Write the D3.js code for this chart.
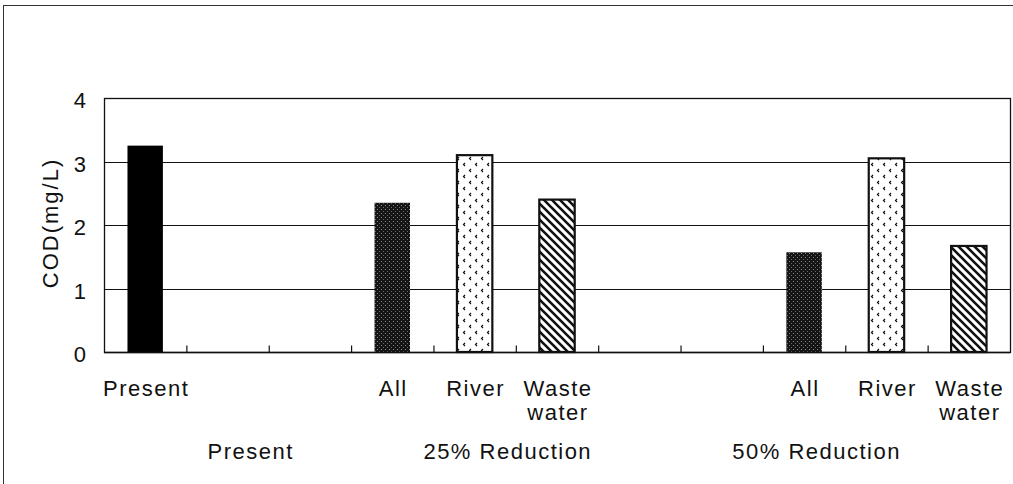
<!DOCTYPE html>
<html><head><meta charset="utf-8">
<script src="https://cdn.jsdelivr.net/npm/d3@7"></script>
<style>
html,body{margin:0;padding:0;background:#fff;}
svg{display:block;}
text{font-family:"Liberation Sans",Arial,sans-serif;fill:#111;}
</style></head>
<body><svg id="c" width="1013" height="484"></svg>
<script>
// ---- data ----
const slots = ["s1","s2","s3","s4","s5","s6","s7","s8","s9","s10","s11"];
const slotLabels = [["Present"],[],[],["All"],["River"],["Waste","water"],[],[],["All"],["River"],["Waste","water"]];
const values = [3.25, null, null, 2.35, 3.10, 2.40, null, null, 1.57, 3.05, 1.67];
const fillKinds = ["solid", null, null, "dark", "dots", "hatch", null, null, "dark", "dots", "hatch"];
const groupLabels = ["Present", "25% Reduction", "50% Reduction"];
const yTicks = [0, 1, 2, 3, 4];
const yTitle = "COD(mg/L)";

// ---- layout ----
const svg = d3.select("#c");
const L = 104, R = 1010, T = 98, B = 352;
const FS = 22, LS = 1.5;
const groupLabelAt = [1.77, 4.89, 8.64]; // in slot units

const x = d3.scaleBand().domain(slots).range([L, R]).paddingInner(0).paddingOuter(0);
const y = d3.scaleLinear().domain([0, 4]).range([B, T]);
const slotUnit = d3.scaleLinear().domain([0, slots.length]).range([L, R]);

// outer frame
svg.append("rect").attr("x", 3.5).attr("y", 5.5).attr("width", 1030).attr("height", 500)
  .attr("fill", "none").attr("stroke", "#333").attr("stroke-width", 1);

// patterns
const defs = svg.append("defs");
const pDark = defs.append("pattern").attr("id", "dark").attr("patternUnits", "userSpaceOnUse")
  .attr("width", 4).attr("height", 4);
pDark.append("rect").attr("width", 4).attr("height", 4).attr("fill", "#141414");
pDark.append("rect").attr("x", 1).attr("y", 1).attr("width", 1).attr("height", 1).attr("fill", "#8a8a8a");
pDark.append("rect").attr("x", 3).attr("y", 3).attr("width", 1).attr("height", 1).attr("fill", "#6a6a6a");

const pDots = defs.append("pattern").attr("id", "dots").attr("patternUnits", "userSpaceOnUse")
  .attr("width", 12).attr("height", 12);
pDots.append("rect").attr("width", 12).attr("height", 12).attr("fill", "#fff");
pDots.append("path").attr("d", "M3,1 L1.5,2.5 L3,4 M9,7 L7.5,8.5 L9,10").attr("stroke", "#111")
  .attr("stroke-width", 1.2).attr("fill", "none");

const pHatch = defs.append("pattern").attr("id", "hatch").attr("patternUnits", "userSpaceOnUse")
  .attr("width", 8).attr("height", 8);
pHatch.append("rect").attr("width", 8).attr("height", 8).attr("fill", "#fff");
pHatch.append("path").attr("d", "M-2,-2 L10,10 M-2,6 L2,10 M6,-2 L10,2").attr("stroke", "#111")
  .attr("stroke-width", 2.6);

const fillFor = k => k === "solid" ? "#000" : "url(#" + k + ")";

// gridlines
svg.append("g").selectAll("line").data(yTicks.filter(d => d > 0 && d < 4)).join("line")
  .attr("x1", L).attr("x2", R).attr("y1", d => Math.round(y(d)) + 0.5).attr("y2", d => Math.round(y(d)) + 0.5)
  .attr("stroke", "#111").attr("stroke-width", 1.2);

// plot frame
svg.append("rect").attr("x", L + 0.5).attr("y", T + 0.5).attr("width", R - L).attr("height", B - T)
  .attr("fill", "none").attr("stroke", "#111").attr("stroke-width", 1.3);

// x axis ticks (inward)
const xAxis = d3.axisTop(slotUnit).tickValues(d3.range(1, slots.length)).tickSize(7).tickFormat("");
const gx = svg.append("g").attr("transform", `translate(0,${B + 0.5})`).call(xAxis);
gx.select(".domain").remove();
gx.selectAll("line").attr("stroke", "#111").attr("stroke-width", 1.2);

// bars
const bw = x.bandwidth() * 0.43;
const barData = slots.map((s, i) => ({s, v: values[i], k: fillKinds[i]})).filter(d => d.v != null);
svg.append("g").selectAll("rect").data(barData).join("rect")
  .attr("x", d => x(d.s) + (x.bandwidth() - bw) / 2)
  .attr("y", d => y(d.v))
  .attr("width", bw)
  .attr("height", d => y(0) - y(d.v))
  .attr("fill", d => fillFor(d.k))
  .attr("stroke", "#111").attr("stroke-width", d => d.k === "solid" || d.k === "dark" ? 0 : 2.2);

// baseline
svg.append("line").attr("x1", L).attr("x2", R).attr("y1", B + 0.5).attr("y2", B + 0.5)
  .attr("stroke", "#111").attr("stroke-width", 1.5);

// y axis labels
const yAxis = d3.axisLeft(y).tickValues(yTicks).tickSize(0).tickPadding(18).tickFormat(d3.format("d"));
const gy = svg.append("g").attr("transform", `translate(${L},0)`).call(yAxis);
gy.select(".domain").remove();
gy.selectAll("text").attr("font-size", FS).attr("font-family", "Liberation Sans, Arial, sans-serif")
  .attr("fill", "#111").attr("dy", "0.45em");

// y title
svg.append("text").attr("transform", `translate(58,${(T + B) / 2 - 2}) rotate(-90)`)
  .attr("text-anchor", "middle").attr("font-size", FS).attr("letter-spacing", LS + 0.5).text(yTitle);

// category labels
const catG = svg.append("g");
slots.forEach((s, i) => {
  slotLabels[i].forEach((t, j) => {
    catG.append("text").attr("x", x(s) + x.bandwidth() / 2 + 1).attr("y", 396 + j * 24)
      .attr("text-anchor", "middle").attr("font-size", FS).attr("letter-spacing", LS).text(t);
  });
});

// group labels
svg.append("g").selectAll("text").data(groupLabels).join("text")
  .attr("x", (d, i) => slotUnit(groupLabelAt[i]) + 1).attr("y", 459)
  .attr("text-anchor", "middle").attr("font-size", FS).attr("letter-spacing", LS).text(d => d);
</script>
</body></html>
